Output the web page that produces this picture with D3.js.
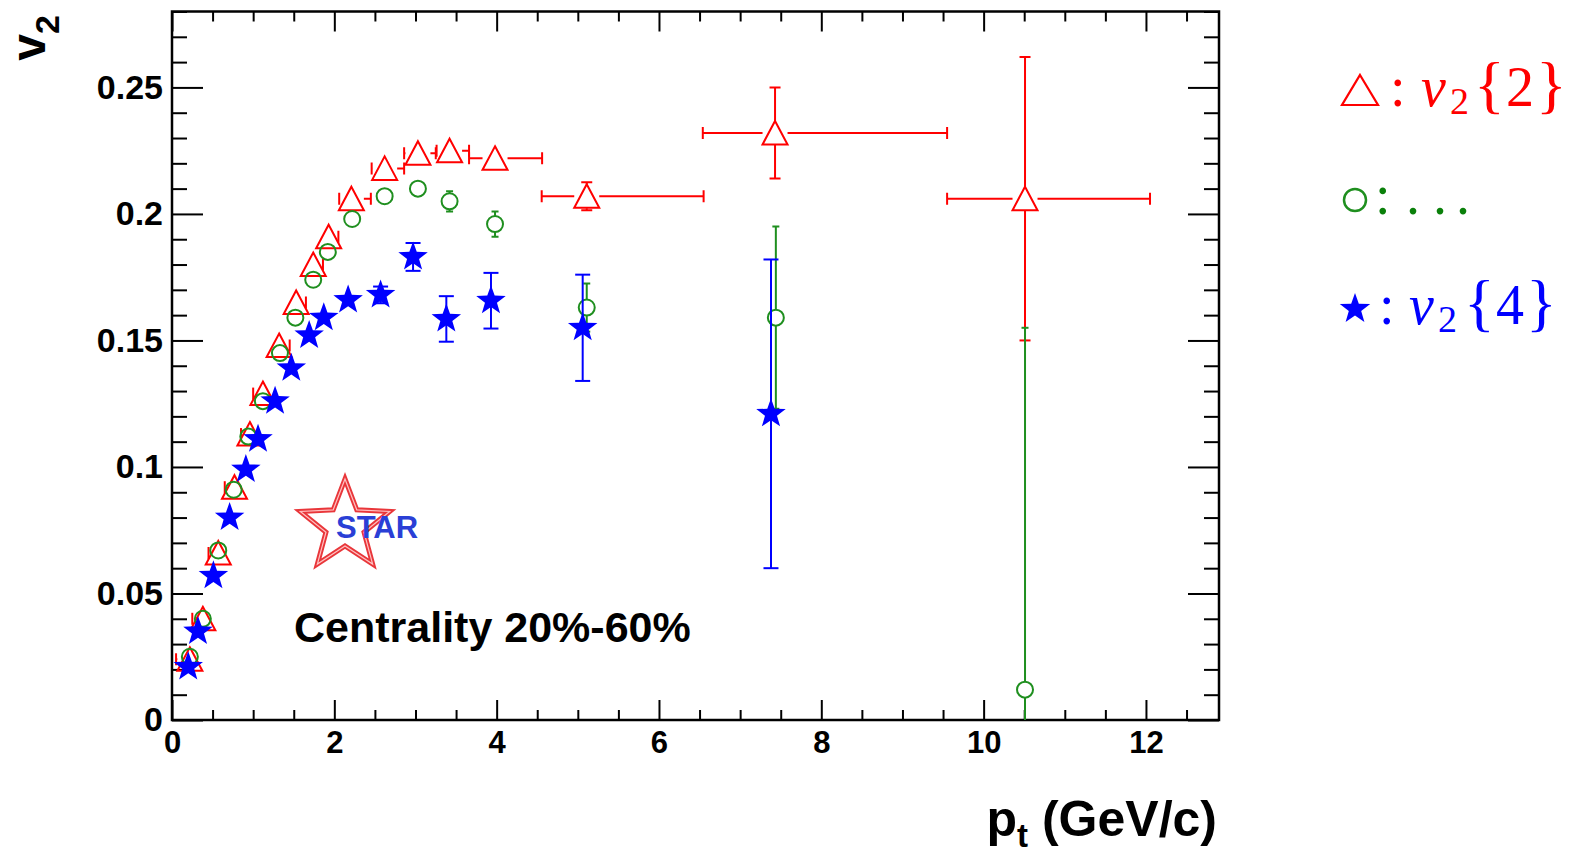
<!DOCTYPE html>
<html><head><meta charset="utf-8">
<script src="https://cdn.jsdelivr.net/npm/d3@7"></script>
<style>body{margin:0;background:#fff;} svg{display:block}</style>
</head><body><svg id="c" width="1579" height="853"></svg>
<script>
// ---- data: v2{2} (red triangles)
const ptV22 = [0.22, 0.38, 0.57, 0.77, 0.96, 1.12, 1.32, 1.53, 1.74, 1.93, 2.21, 2.62, 3.03, 3.42, 3.98, 5.11, 7.43, 10.51];
const v22 = [0.024, 0.040, 0.066, 0.092, 0.113, 0.129, 0.148, 0.165, 0.180, 0.191, 0.206, 0.218, 0.224, 0.225, 0.222, 0.207, 0.232, 0.206];
const v22ErrY = [0.002, 0.002, 0.002, 0.002, 0.002, 0.002, 0.002, 0.002, 0.002, 0.002, 0.003, 0.003, 0.003, 0.003, 0.003, 0.0055, 0.018, 0.056];
const v22ErrXLow = [0.17, 0.13, 0.12, 0.12, 0.11, 0.12, 0.06, 0.06, 0.06, 0.06, 0.15, 0.16, 0.17, 0.16, 0.32, 0.555, 0.89, 0.96];
const v22ErrXHigh = [0.03, 0.06, 0.06, 0.06, 0.06, 0.06, 0.13, 0.12, 0.12, 0.12, 0.24, 0.24, 0.22, 0.24, 0.58, 1.44, 2.12, 1.54];
// ---- data: green open circles
const ptV2x = [0.22, 0.38, 0.57, 0.76, 0.94, 1.12, 1.33, 1.52, 1.74, 1.92, 2.22, 2.62, 3.03, 3.42, 3.98, 5.11, 7.44, 10.51];
const v2x = [0.025, 0.040, 0.067, 0.091, 0.112, 0.126, 0.145, 0.159, 0.174, 0.185, 0.198, 0.207, 0.210, 0.205, 0.196, 0.163, 0.159, 0.012];
const v2xErrY = [0.001, 0.001, 0.001, 0.001, 0.001, 0.001, 0.001, 0.001, 0.001, 0.001, 0.002, 0.002, 0.003, 0.004, 0.005, 0.0095, 0.036, 0.143];
// ---- data: v2{4} (blue stars)
const ptV24 = [0.20, 0.32, 0.51, 0.71, 0.91, 1.06, 1.27, 1.47, 1.69, 1.87, 2.17, 2.57, 2.97, 3.38, 3.93, 5.06, 7.38];
const v24 = [0.021, 0.035, 0.057, 0.080, 0.099, 0.111, 0.126, 0.139, 0.152, 0.159, 0.166, 0.168, 0.183, 0.1585, 0.1657, 0.155, 0.121];
const v24ErrY = [0.0015, 0.0015, 0.0015, 0.0015, 0.0015, 0.0015, 0.0015, 0.0015, 0.0015, 0.0015, 0.0015, 0.0033, 0.0055, 0.009, 0.011, 0.021, 0.061];
// ---- axes
const xTicks = [0, 2, 4, 6, 8, 10, 12];
const xTickLabels = ["0", "2", "4", "6", "8", "10", "12"];
const yTicks = [0, 0.05, 0.1, 0.15, 0.2, 0.25];
const yTickLabels = ["0", "0.05", "0.1", "0.15", "0.2", "0.25"];
const xDomain = [0, 12.9];
const yDomain = [0, 0.28];

const RED = "#ff0000", GREEN = "#1f8f1f", BLUE = "#0000ff";
const SANS = "'Liberation Sans', Arial, Helvetica, sans-serif";
const SERIF = "'Liberation Serif', 'Times New Roman', serif";

const svg = d3.select("#c");
svg.append("rect").attr("width", 1579).attr("height", 853).attr("fill", "#fff");

const x = d3.scaleLinear().domain(xDomain).range([172, 1219]);
const y = d3.scaleLinear().domain(yDomain).range([720, 11.5]);

const xMinor = d3.range(0, 12.9, 0.5).filter(v => Math.abs(v / 2 - Math.round(v / 2)) > 1e-6);
const yMinor = d3.range(0, 0.2801, 0.01).filter(v => Math.abs(v / 0.05 - Math.round(v / 0.05)) > 1e-6);

function styleAxis(g, fs) {
  g.select(".domain").remove();
  g.selectAll(".tick line").attr("stroke", "#000").attr("stroke-width", 2);
  g.selectAll("text").attr("font-family", SANS).attr("font-weight", "bold").attr("font-size", fs).attr("fill", "#000");
}
// bottom
svg.append("g").attr("transform", `translate(0,${y(0)})`)
  .call(d3.axisBottom(x).tickValues(xTicks).tickFormat((d, i) => xTickLabels[i]).tickSizeInner(-20).tickSizeOuter(0).tickPadding(11))
  .call(g => styleAxis(g, 31));
svg.append("g").attr("transform", `translate(0,${y(0)})`)
  .call(d3.axisBottom(x).tickValues(xMinor).tickFormat("").tickSizeInner(-10).tickSizeOuter(0))
  .call(g => styleAxis(g, 31));
// top
svg.append("g").attr("transform", `translate(0,${y(yDomain[1])})`)
  .call(d3.axisTop(x).tickValues(xTicks).tickFormat("").tickSizeInner(-20).tickSizeOuter(0))
  .call(g => styleAxis(g, 31));
svg.append("g").attr("transform", `translate(0,${y(yDomain[1])})`)
  .call(d3.axisTop(x).tickValues(xMinor).tickFormat("").tickSizeInner(-10).tickSizeOuter(0))
  .call(g => styleAxis(g, 31));
// left
svg.append("g").attr("transform", `translate(${x(0)},0)`)
  .call(d3.axisLeft(y).tickValues(yTicks).tickFormat((d, i) => yTickLabels[i]).tickSizeInner(-31).tickSizeOuter(0).tickPadding(9))
  .call(g => styleAxis(g, 34));
svg.append("g").attr("transform", `translate(${x(0)},0)`)
  .call(d3.axisLeft(y).tickValues(yMinor).tickFormat("").tickSizeInner(-15).tickSizeOuter(0))
  .call(g => styleAxis(g, 34));
// right
svg.append("g").attr("transform", `translate(${x(xDomain[1])},0)`)
  .call(d3.axisRight(y).tickValues(yTicks).tickFormat("").tickSizeInner(-31).tickSizeOuter(0))
  .call(g => styleAxis(g, 34));
svg.append("g").attr("transform", `translate(${x(xDomain[1])},0)`)
  .call(d3.axisRight(y).tickValues(yMinor).tickFormat("").tickSizeInner(-15).tickSizeOuter(0))
  .call(g => styleAxis(g, 34));

// frame
svg.append("rect").attr("x", x(0)).attr("y", y(yDomain[1]))
  .attr("width", x(xDomain[1]) - x(0)).attr("height", y(0) - y(yDomain[1]))
  .attr("fill", "none").attr("stroke", "#000").attr("stroke-width", 2.5);

// axis titles
const xt = svg.append("text").attr("x", x(xDomain[1]) - 2).attr("y", 836).attr("text-anchor", "end")
  .attr("font-family", SANS).attr("font-weight", "bold").attr("font-size", 50).attr("fill", "#000");
xt.append("tspan").text("p");
xt.append("tspan").attr("font-size", 33).attr("dy", 11).text("t");
xt.append("tspan").attr("dy", -11).text(" (GeV/c)");

const yt = svg.append("text").attr("transform", "translate(45,15) rotate(-90)").attr("text-anchor", "end")
  .attr("font-family", SANS).attr("font-weight", "bold").attr("font-size", 48).attr("fill", "#000");
yt.append("tspan").text("v");
yt.append("tspan").attr("font-size", 34).attr("dy", 14).text("2");

// marker shapes
function starPath(R, r) {
  const pts = [];
  for (let k = 0; k < 10; k++) {
    const a = -Math.PI / 2 + k * Math.PI / 5;
    const rr = k % 2 === 0 ? R : r;
    pts.push([rr * Math.cos(a), rr * Math.sin(a)]);
  }
  return "M" + pts.map(p => p[0].toFixed(2) + "," + p[1].toFixed(2)).join("L") + "Z";
}
function triPath(hw, hTop, hBot) {
  return `M0,${-hTop}L${hw},${hBot}L${-hw},${hBot}Z`;
}

svg.append("defs").append("clipPath").attr("id", "pc").append("rect")
  .attr("x", x(0)).attr("y", y(yDomain[1])).attr("width", x(xDomain[1]) - x(0)).attr("height", y(0) - y(yDomain[1]));

function drawSeries(xs, ys, ey, exl, exh, o) {
  const g = svg.append("g").attr("clip-path", "url(#pc)");
  const eg = g.append("g").attr("stroke", o.color).attr("stroke-width", o.lw).attr("fill", "none");
  xs.forEach((xv, i) => {
    const px = x(xv), py = y(ys[i]);
    const e = ey ? ey[i] : 0;
    const top = y(ys[i] + e);
    const rawBot = y(ys[i] - e);
    const bot = Math.min(rawBot, y(0));
    if (py - top > o.skipV) eg.append("line").attr("x1", px).attr("x2", px).attr("y1", top).attr("y2", py - o.skipV);
    if (bot - py > o.skipV) eg.append("line").attr("x1", px).attr("x2", px).attr("y1", py + o.skipV).attr("y2", bot);
    if (py - top > o.capMinV) eg.append("line").attr("x1", px - o.capV / 2).attr("x2", px + o.capV / 2).attr("y1", top).attr("y2", top);
    if (bot - py > o.capMinV && rawBot <= y(0)) eg.append("line").attr("x1", px - o.capV / 2).attr("x2", px + o.capV / 2).attr("y1", bot).attr("y2", bot);
    if (exl) {
      const l = x(xv - exl[i]), r = x(xv + exh[i]);
      if (px - l > o.skipH) eg.append("line").attr("x1", l).attr("x2", px - o.skipH).attr("y1", py).attr("y2", py);
      if (r - px > o.skipH) eg.append("line").attr("x1", px + o.skipH).attr("x2", r).attr("y1", py).attr("y2", py);
      if (px - l > o.capMinH) eg.append("line").attr("x1", l).attr("x2", l).attr("y1", py - o.capH / 2).attr("y2", py + o.capH / 2);
      if (r - px > o.capMinH) eg.append("line").attr("x1", r).attr("x2", r).attr("y1", py - o.capH / 2).attr("y2", py + o.capH / 2);
    }
  });
  const mg = g.append("g");
  xs.forEach((xv, i) => {
    const p = mg.append("path").attr("d", o.shape).attr("transform", `translate(${x(xv)},${y(ys[i])})`);
    if (o.filled) p.attr("fill", o.color).attr("stroke", "none");
    else p.attr("fill", "none").attr("stroke", o.color).attr("stroke-width", o.mlw);
  });
}

drawSeries(ptV22, v22, v22ErrY, v22ErrXLow, v22ErrXHigh,
  { color: RED, lw: 2, shape: triPath(12.5, 12, 11.5), filled: false, mlw: 2, skipV: 12, skipH: 12.5, capMinV: 12.5, capMinH: 7, capV: 11, capH: 12 });
drawSeries(ptV2x, v2x, v2xErrY, null, null,
  { color: GREEN, lw: 2, shape: d3.arc()({ innerRadius: 0, outerRadius: 8, startAngle: 0, endAngle: 2 * Math.PI }), filled: false, mlw: 2, skipV: 8, skipH: 8, capMinV: 8.5, capMinH: 8.5, capV: 7, capH: 7 });
drawSeries(ptV24, v24, v24ErrY, null, null,
  { color: BLUE, lw: 2, shape: starPath(15.5, 6.3), filled: true, skipV: 0, skipH: 0, capMinV: 5, capMinH: 5, capV: 15, capH: 15 });

// STAR logo
const logo = svg.append("g").attr("transform", "translate(345,526)");
logo.append("path").attr("d", starPath(47, 20)).attr("fill", "#fff").attr("stroke", "#e8262a")
  .attr("stroke-width", 5).attr("stroke-linejoin", "miter").attr("opacity", 0.92);
logo.append("path").attr("d", starPath(47, 20)).attr("fill", "none").attr("stroke", "#ffc0c0")
  .attr("stroke-width", 1.2);
logo.append("text").attr("x", -9).attr("y", 12).attr("font-family", SANS).attr("font-weight", "bold")
  .attr("font-size", 31).attr("fill", "#2a3fd6").text("STAR");

// Centrality label
svg.append("text").attr("x", 294).attr("y", 642).attr("font-family", SANS).attr("font-weight", "bold")
  .attr("font-size", 43).attr("fill", "#000").text("Centrality 20%-60%");

// legend
const LFS = 56, BFS = 64, SFS = 38;
// row 1 (v2{2})
svg.append("path").attr("d", triPath(18, 15, 15)).attr("transform", "translate(1360,90)")
  .attr("fill", "none").attr("stroke", RED).attr("stroke-width", 2.2);
const l1 = svg.append("text").attr("y", 106).attr("font-family", SERIF).attr("font-size", LFS).attr("fill", RED);
l1.append("tspan").attr("x", 1390).text(":");
l1.append("tspan").attr("x", 1421).attr("font-style", "italic").text("v");
l1.append("tspan").attr("x", 1450).attr("font-size", SFS).attr("dy", 8).text("2");
l1.append("tspan").attr("x", 1474).attr("font-size", BFS).attr("dy", -8).text("{");
l1.append("tspan").attr("x", 1506).text("2");
l1.append("tspan").attr("x", 1536).attr("font-size", BFS).text("}");
// row 2
svg.append("circle").attr("cx", 1355).attr("cy", 200).attr("r", 11)
  .attr("fill", "none").attr("stroke", GREEN).attr("stroke-width", 2.5);
const l2 = svg.append("text").attr("y", 214).attr("font-family", SERIF).attr("font-size", LFS).attr("fill", "#0a800a");
l2.append("tspan").attr("x", 1375).text(":");
l2.append("tspan").attr("x", 1406).text(".");
l2.append("tspan").attr("x", 1433).text(".");
l2.append("tspan").attr("x", 1456).text(".");
// row 3 (v2{4})
svg.append("path").attr("d", starPath(16, 6.5)).attr("transform", "translate(1355,309)").attr("fill", BLUE);
const l3 = svg.append("text").attr("y", 324).attr("font-family", SERIF).attr("font-size", LFS).attr("fill", BLUE);
l3.append("tspan").attr("x", 1379).text(":");
l3.append("tspan").attr("x", 1409).attr("font-style", "italic").text("v");
l3.append("tspan").attr("x", 1438).attr("font-size", SFS).attr("dy", 8).text("2");
l3.append("tspan").attr("x", 1464).attr("font-size", BFS).attr("dy", -8).text("{");
l3.append("tspan").attr("x", 1496).text("4");
l3.append("tspan").attr("x", 1526).attr("font-size", BFS).text("}");
</script>
</body></html>
